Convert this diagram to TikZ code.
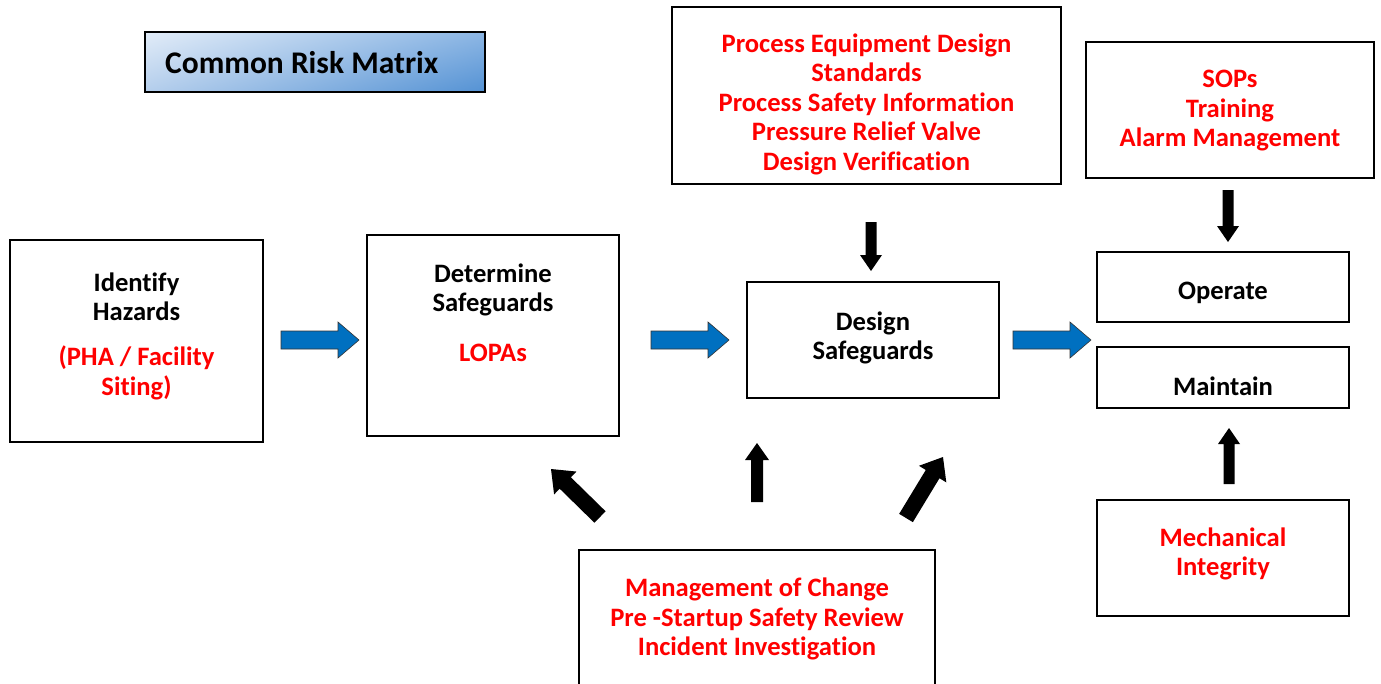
\documentclass[tikz,border=0pt]{standalone}
\usepackage{fontspec}
\setmainfont{Carlito}[Ligatures=NoCommon]
\usetikzlibrary{calc,shadings}
\definecolor{myred}{RGB}{255,0,0}
\definecolor{arrowblue}{RGB}{0,112,192}
\definecolor{gUL}{RGB}{226,236,248}
\definecolor{gUR}{RGB}{140,182,228}
\definecolor{gLL}{RGB}{180,206,236}
\definecolor{gLR}{RGB}{84,146,212}
\newcommand\fatarrow[6]{%
  \coordinate (fatH) at ($(#3)!#6!(#2)$);
  \path[#1] ($(#2)!#4!90:(#3)$) -- ($(fatH)!#4!90:(#3)$) -- ($(fatH)!#5!90:(#3)$)
    -- (#3) -- ($(fatH)!#5!-90:(#3)$) -- ($(fatH)!#4!-90:(#3)$) -- ($(#2)!#4!-90:(#3)$) -- cycle;}
\begin{document}
\begin{tikzpicture}[x=1pt,y=-1pt,
  box/.style={draw=black, line width=1.4pt, inner sep=0pt},
  txt/.style={align=center, font=\bfseries\fontsize{26.6}{29.5}\selectfont, inner sep=0pt},
  redtxt/.style={txt, text=myred},
  bluearrow/.style={fill=arrowblue, draw=black!80, line width=0.6pt},
  blackarrow/.style={fill=black}]
\useasboundingbox (0,0) rectangle (1381,683);

% title box
\node[box, line width=1.6pt, minimum width=340pt, minimum height=60pt,
  upper left=gUL, upper right=gUR, lower left=gLL, lower right=gLR] (title) at (315,62) {};
\node[txt, font=\bfseries\fontsize{31.5}{34}\selectfont, anchor=west] (titletxt) at (165,63) {Common Risk Matrix};

% boxes
\node[box, minimum width=253pt, minimum height=202pt] (identify) at (136.5,341) {};
\node[box, minimum width=252pt, minimum height=201pt] (determine) at (493,335.5) {};
\node[box, minimum width=252pt, minimum height=116pt] (design) at (873,340) {};
\node[box, minimum width=389pt, minimum height=177pt] (pesd) at (866.5,95.5) {};
\node[box, minimum width=288pt, minimum height=136pt] (sops) at (1230,110) {};
\node[box, minimum width=252pt, minimum height=70pt] (operate) at (1223,287) {};
\node[box, minimum width=252pt, minimum height=61pt] (maintain) at (1223,377.5) {};
\node[box, minimum width=252pt, minimum height=116pt] (mech) at (1223,558) {};
\node[box, minimum width=356pt, minimum height=150pt] (moc) at (757,625) {};

% texts
\node[txt] (identifyA) at (136.5,297) {Identify\\Hazards};
\node[redtxt] (identifyB) at (136.5,373) {(PHA / Facility\\Siting)};
\node[txt] (determineA) at (493,290) {Determine\\Safeguards};
\node[redtxt] (determineB) at (493,353) {LOPAs};
\node[txt] (designA) at (873,338) {Design\\Safeguards};
\node[redtxt] (pesdT) at (866.5,104) {Process Equipment Design\\Standards\\Process Safety Information\\Pressure Relief Valve\\Design Verification};
\node[redtxt] (sopsT) at (1230,111) {SOPs\\Training\\Alarm Management};
\node[txt] (operateT) at (1223,293) {Operate};
\node[txt] (maintainT) at (1223,386) {Maintain};
\node[redtxt] (mechT) at (1223,554) {Mechanical\\Integrity};
\node[redtxt] (mocT) at (757,619) {Management of Change\\Pre -Startup Safety Review\\Incident Investigation};

% arrow end points
\coordinate (b1s) at (281,340); \coordinate (b1e) at (359,340);
\coordinate (b2s) at (651,340); \coordinate (b2e) at (729,340);
\coordinate (b3s) at (1013,340); \coordinate (b3e) at (1091,340);
\coordinate (k1s) at (871,222); \coordinate (k1e) at (871,271);
\coordinate (k2s) at (1228,190); \coordinate (k2e) at (1228,242);
\coordinate (k3s) at (1229,484); \coordinate (k3e) at (1229,428);
\coordinate (k4s) at (757,502); \coordinate (k4e) at (757,443);
\coordinate (k5s) at (600,517); \coordinate (k5e) at (551,469);
\coordinate (k6s) at (906,518); \coordinate (k6e) at (943,457);

\fatarrow{bluearrow}{b1s}{b1e}{9pt}{18pt}{21pt}
\fatarrow{bluearrow}{b2s}{b2e}{9pt}{18pt}{21pt}
\fatarrow{bluearrow}{b3s}{b3e}{9pt}{18pt}{21pt}
\fatarrow{blackarrow}{k1s}{k1e}{5.5pt}{11pt}{16pt}
\fatarrow{blackarrow}{k2s}{k2e}{5.5pt}{11pt}{16pt}
\fatarrow{blackarrow}{k3s}{k3e}{5.5pt}{11pt}{16pt}
\fatarrow{blackarrow}{k4s}{k4e}{6pt}{12pt}{17pt}
\fatarrow{blackarrow}{k5s}{k5e}{8pt}{16pt}{20pt}
\fatarrow{blackarrow}{k6s}{k6e}{8pt}{16pt}{20pt}
\end{tikzpicture}
\end{document}
